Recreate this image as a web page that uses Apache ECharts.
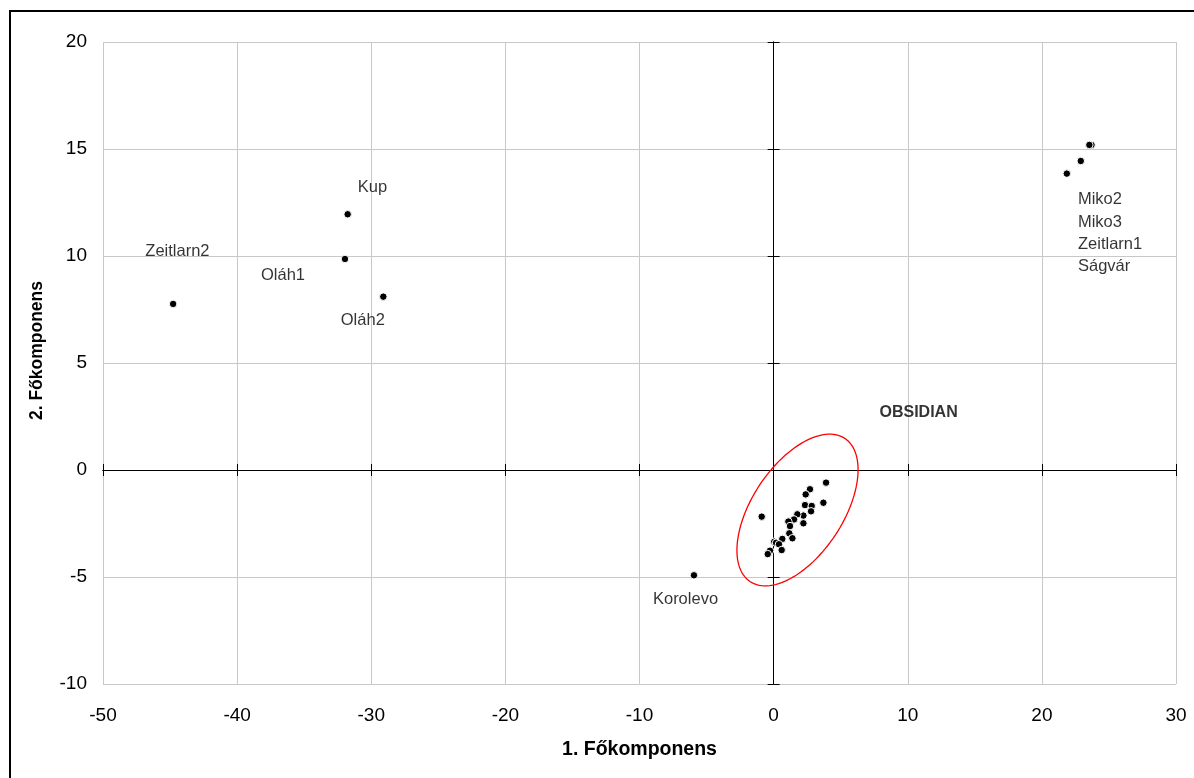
<!DOCTYPE html>
<html>
<head>
<meta charset="utf-8">
<script src="https://cdn.jsdelivr.net/npm/echarts@6/dist/echarts.min.js"></script>
<style>
html,body{margin:0;padding:0;background:#fff;}
#chart{width:1194px;height:778px;}
</style>
</head>
<body>
<div id="chart"></div>
<script>
// ---- data ----
const xTicks = [-50, -40, -30, -20, -10, 0, 10, 20, 30];
const yTicks = [-10, -5, 0, 5, 10, 15, 20];

const obsidianPoints = [
  [3.91, -0.59], [2.71, -0.90], [2.39, -1.14], [3.71, -1.53], [2.34, -1.64],
  [2.84, -1.68], [2.79, -1.93], [2.22, -2.13], [1.77, -2.07], [-0.89, -2.18],
  [2.22, -2.49], [1.52, -2.31], [1.10, -2.41], [1.22, -2.62], [1.17, -2.96],
  [1.40, -3.19], [0.65, -3.22], [0.05, -3.35], [0.18, -3.40], [0.40, -3.47],
  [0.60, -3.74], [-0.27, -3.77], [-0.44, -3.93]
];
const otherPoints = [
  [-44.77, 7.76], [-31.76, 11.95], [-31.96, 9.86], [-29.10, 8.10],
  [-5.94, -4.92], [23.70, 15.19], [23.54, 15.19], [22.90, 14.44], [21.86, 13.85]
];

const labelNames = ['Kup', 'Zeitlarn2', 'Oláh1', 'Oláh2', 'Korolevo'];
const labelCoords = [[-29.91, 13.22], [-44.45, 10.19], [-36.58, 9.11], [-30.63, 7.01], [-6.57, -6.07]];
const groupNames = ['Miko2', 'Miko3', 'Zeitlarn1', 'Ságvár'];
const groupCoords = [[22.69, 12.62], [22.69, 11.59], [22.69, 10.56], [22.69, 9.53]];
const clusterName = 'OBSIDIAN';
const clusterCoord = [10.81, 2.66];

// confidence ellipse: centre and two conjugate semi-axis vectors (data units)
const ellipseCenter = [1.78, -1.87];
const ellipseAxisA = [3.52, 3.35];
const ellipseAxisB = [-2.83, 1.16];

// ---- chart ----
const FONT = '"Liberation Sans", Arial, sans-serif';
const chart = echarts.init(document.getElementById('chart'));

const baseX = { type: 'value', min: xTicks[0], max: xTicks[xTicks.length - 1], interval: 10, gridIndex: 0 };
const baseY = { type: 'value', min: yTicks[0], max: yTicks[yTicks.length - 1], interval: 5, gridIndex: 0 };

function zeroAxis(base, inside, zeroIdx) {
  return Object.assign({}, base, {
    axisLine: { show: true, onZero: true, onZeroAxisIndex: zeroIdx, lineStyle: { color: '#000', width: 1 } },
    axisTick: { show: true, inside: inside, length: 6, lineStyle: { color: '#000', width: 1 } },
    axisLabel: { show: false },
    splitLine: { show: false }
  });
}

const option = {
  animation: false,
  backgroundColor: '#fff',
  textStyle: { fontFamily: FONT },
  grid: { left: 103, right: 18, top: 42, bottom: 94, containLabel: false },
  graphic: [{
    type: 'rect', silent: true, z: -1,
    shape: { x: 10, y: 11, width: 1200, height: 800 },
    style: { fill: 'none', stroke: '#000', lineWidth: 2 }
  }],
  xAxis: [
    Object.assign({}, baseX, {
      position: 'bottom',
      name: '1. Főkomponens', nameLocation: 'middle', nameGap: 56,
      nameTextStyle: { fontFamily: FONT, fontSize: 19.5, fontWeight: 'bold', color: '#000' },
      axisLine: { show: false, onZero: false },
      axisTick: { show: false },
      axisLabel: { show: true, fontSize: 19, color: '#000', margin: 22, fontFamily: FONT },
      splitLine: { show: true, lineStyle: { color: '#c8c8c8', width: 1 } }
    }),
    zeroAxis(baseX, false, 0),
    zeroAxis(baseX, true, 0)
  ],
  yAxis: [
    Object.assign({}, baseY, {
      position: 'left',
      name: '2. Főkomponens', nameLocation: 'middle', nameGap: 57,
      nameTextStyle: { fontFamily: FONT, fontSize: 17.5, fontWeight: 'bold', color: '#000', padding: [0, 0, 0, 25] },
      axisLine: { show: false, onZero: false },
      axisTick: { show: false },
      axisLabel: { show: true, fontSize: 19, color: '#000', margin: 16, fontFamily: FONT },
      splitLine: { show: true, lineStyle: { color: '#c8c8c8', width: 1 } }
    }),
    zeroAxis(baseY, false, 0),
    zeroAxis(baseY, true, 0)
  ],
  series: [
    {
      type: 'custom',
      xAxisIndex: 0, yAxisIndex: 0,
      data: [ellipseCenter],
      silent: true,
      z: 3,
      renderItem: function (params, api) {
        const pts = [];
        const n = 120;
        for (let i = 0; i < n; i++) {
          const t = (i / n) * Math.PI * 2;
          const c = Math.cos(t), s = Math.sin(t);
          pts.push(api.coord([
            ellipseCenter[0] + c * ellipseAxisA[0] + s * ellipseAxisB[0],
            ellipseCenter[1] + c * ellipseAxisA[1] + s * ellipseAxisB[1]
          ]));
        }
        return { type: 'polygon', shape: { points: pts }, style: { fill: 'none', stroke: '#ff0000', lineWidth: 1.3 } };
      }
    },
    {
      type: 'scatter', xAxisIndex: 0, yAxisIndex: 0,
      data: otherPoints.concat(obsidianPoints),
      symbol: 'circle', symbolSize: 7.5,
      itemStyle: { color: '#000', borderColor: '#fff', borderWidth: 1, opacity: 1 },
      z: 4
    },
    {
      type: 'scatter', xAxisIndex: 0, yAxisIndex: 0,
      symbolSize: 0, silent: true, z: 5,
      label: { show: true, position: 'inside', formatter: '{b}', fontSize: 16.5, color: '#000', textBorderWidth: 0, fontFamily: FONT },
      data: labelNames.map((n, i) => ({ name: n, value: labelCoords[i] }))
        .concat(groupNames.map((n, i) => ({ name: n, value: groupCoords[i], label: { align: 'left' } })))
        .concat([{ name: clusterName, value: clusterCoord, label: { fontWeight: 'bold', fontSize: 16 } }])
    }
  ]
};
chart.setOption(option);
</script>
</body>
</html>
